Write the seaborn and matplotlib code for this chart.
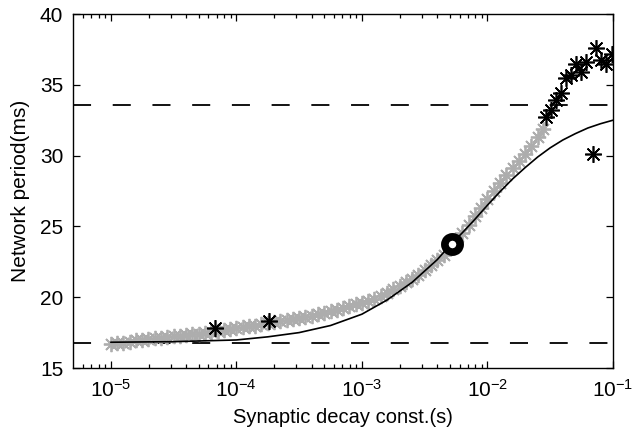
import numpy as np
import pandas as pd
import matplotlib
matplotlib.use("Agg")
import matplotlib.pyplot as plt
import seaborn as sns
from matplotlib.ticker import FixedLocator, LogFormatterMathtext, NullFormatter

# ---------------- data ----------------
# gray simulation sweep: log10(decay const) and period (ms)
gray_log_tau = [-5.00, -4.95, -4.90, -4.85, -4.80, -4.75, -4.70, -4.65, -4.60, -4.55,
                -4.50, -4.45, -4.40, -4.35, -4.30, -4.25, -4.20, -4.15, -4.10, -4.05,
                -4.00, -3.95, -3.90, -3.85, -3.80, -3.75, -3.70, -3.65, -3.60, -3.55,
                -3.50, -3.45, -3.40, -3.35, -3.30, -3.25, -3.20, -3.15, -3.10, -3.05,
                -3.00, -2.95, -2.90, -2.85, -2.80, -2.75, -2.70, -2.65, -2.60, -2.55,
                -2.50, -2.45, -2.40, -2.35, -2.30, -2.25, -2.20, -2.15, -2.10, -2.05,
                -2.00, -1.95, -1.90, -1.85, -1.80, -1.75, -1.70, -1.65, -1.60, -1.56]
gray_period = [16.70, 16.75, 16.80, 16.85, 16.95, 16.95, 17.05, 17.10, 17.10, 17.20,
               17.25, 17.25, 17.35, 17.40, 17.40, 17.50, 17.55, 17.60, 17.70, 17.75,
               17.80, 17.90, 17.95, 18.00, 18.10, 18.15, 18.25, 18.30, 18.40, 18.45,
               18.50, 18.60, 18.70, 18.80, 18.90, 19.00, 19.10, 19.25, 19.35, 19.50,
               19.60, 19.75, 19.90, 20.10, 20.30, 20.55, 20.80, 21.05, 21.30, 21.60,
               21.90, 22.25, 22.60, 23.00, 23.50, 24.00, 24.50, 25.10, 25.70, 26.30,
               26.90, 27.50, 28.10, 28.60, 29.10, 29.60, 30.10, 30.70, 31.30, 31.90]

# black stars
black_tau = [6.7e-5, 1.83e-4, 0.0294, 0.0323, 0.0353, 0.0387, 0.0425, 0.0465, 0.0509,
             0.0558, 0.0611, 0.0695, 0.0734, 0.0804, 0.0881, 0.0990]
black_period = [17.8, 18.3, 32.7, 33.2, 33.9, 34.4, 35.5, 35.7, 36.5,
                35.9, 36.6, 30.1, 37.6, 36.75, 36.5, 37.2]

# theoretical curve
curve_log_tau = [-5.0, -4.5, -4.0, -3.75, -3.5, -3.25, -3.0, -2.8, -2.6, -2.4, -2.3,
                 -2.2, -2.1, -2.0, -1.9, -1.8, -1.7, -1.6, -1.5, -1.4, -1.3, -1.2, -1.1, -1.0]
curve_period = [16.82, 16.86, 16.98, 17.2, 17.5, 18.0, 18.8, 19.8, 21.05, 22.65, 23.65,
                24.55, 25.5, 26.5, 27.45, 28.35, 29.15, 29.9, 30.55, 31.1, 31.55, 31.95, 32.25, 32.5]

# highlighted point
circle_tau = [5.2e-3]
circle_period = [23.75]

# reference levels
levels = [33.6, 16.8]

x_ticks = [1e-5, 1e-4, 1e-3, 1e-2, 1e-1]
y_ticks = [15, 20, 25, 30, 35, 40]

# ---------------- figure ----------------
sns.set_style("ticks")
plt.rcParams['font.family'] = ['Liberation Sans', 'DejaVu Sans']
plt.rcParams['mathtext.fontset'] = 'custom'
plt.rcParams['mathtext.rm'] = 'Liberation Sans'
plt.rcParams['mathtext.it'] = 'Liberation Sans'
plt.rcParams['text.color'] = 'black'
plt.rcParams['axes.labelcolor'] = 'black'

fig = plt.figure(figsize=(6.36, 4.38), dpi=100)
ax = fig.add_axes([73/636, 70/438, 540/636, 354/438])

gray_df = pd.DataFrame({"tau": 10.0 ** np.array(gray_log_tau), "period": gray_period})
black_df = pd.DataFrame({"tau": black_tau, "period": black_period})
curve_df = pd.DataFrame({"tau": 10.0 ** np.array(curve_log_tau), "period": curve_period})
circle_df = pd.DataFrame({"tau": circle_tau, "period": circle_period})

star = (8, 2, 0)

for lv in levels:
    ax.axhline(lv, color="black", lw=1.3, dashes=(10, 12), zorder=1)

sns.lineplot(data=gray_df, x="tau", y="period", ax=ax, linestyle="none",
             marker=star, markersize=11, markeredgewidth=1.3, color="#adadad",
             markeredgecolor="#adadad", zorder=2)
sns.lineplot(data=curve_df, x="tau", y="period", ax=ax, color="black", lw=1.2, zorder=3)
sns.lineplot(data=black_df, x="tau", y="period", ax=ax, linestyle="none", sort=False,
             marker=star, markersize=12, markeredgewidth=1.2, color="black",
             markeredgecolor="black", zorder=4)
sns.lineplot(data=circle_df, x="tau", y="period", ax=ax, linestyle="none",
             marker="o", markersize=11, markeredgewidth=5.5, color="white",
             markerfacecolor="white", markeredgecolor="black", zorder=5)

ax.set_xscale("log")
ax.set_xlim(5e-6, 1e-1)
ax.set_ylim(15, 40)
ax.xaxis.set_major_locator(FixedLocator(x_ticks))
ax.xaxis.set_major_formatter(LogFormatterMathtext())
minor = [m * 10.0 ** e for e in (-6, -5, -4, -3) for m in range(2, 10)]
minor = [v for v in minor if 5e-6 <= v < 1e-2]
ax.xaxis.set_minor_locator(FixedLocator(minor))
ax.xaxis.set_minor_formatter(NullFormatter())
ax.set_yticks(y_ticks)

for s in ax.spines.values():
    s.set_visible(True)
    s.set_linewidth(1.0)
    s.set_color("black")

ax.tick_params(which="both", direction="in", top=True, right=True, colors="black",
               labelcolor="black", labelsize=15, width=0.9)
ax.tick_params(which="major", length=5, pad=7)
ax.tick_params(which="minor", length=3)
ax.tick_params(axis="x", which="major", pad=8)

ax.set_xlabel("Synaptic decay const.(s)", fontsize=14.5, labelpad=5, color="black")
ax.set_ylabel("Network period(ms)", fontsize=15, labelpad=7, color="black")
ax.grid(False)

fig.savefig("out.png", dpi=100)
